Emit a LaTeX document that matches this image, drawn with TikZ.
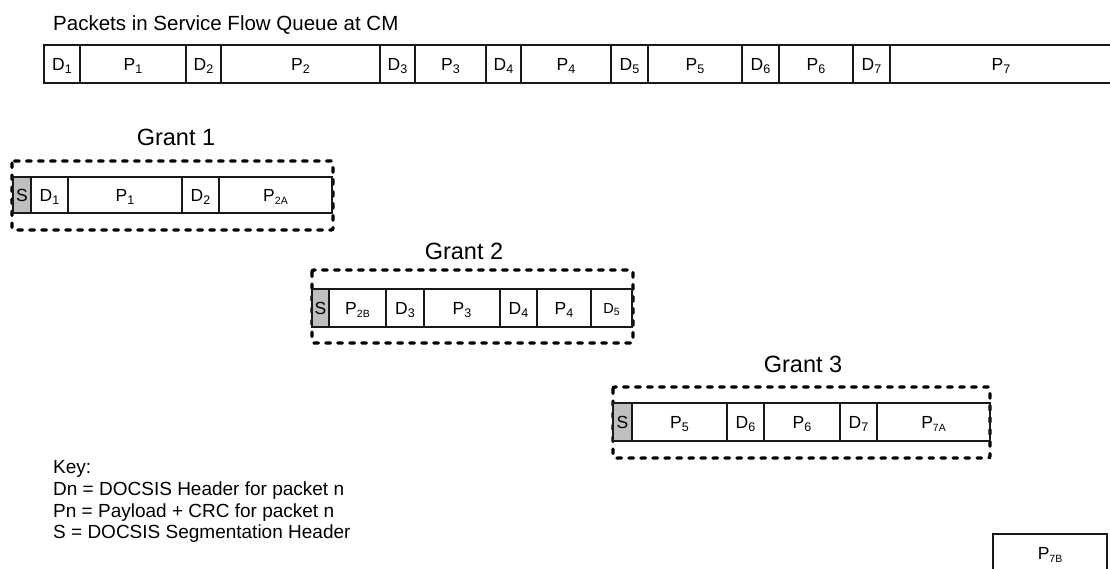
\documentclass[tikz,border=0pt]{standalone}
\usepackage{fontspec}
\setmainfont{Liberation Sans}
\newcommand\lbl[2]{#1\raisebox{-3.2pt}{\fontsize{12.5}{13}\selectfont #2}}
\newcommand\lbs[2]{#1\raisebox{-3.2pt}{\fontsize{10.5}{11}\selectfont #2}}
\begin{document}
\begin{tikzpicture}[x=1pt,y=-1pt,
  cell/.style={draw=black!90, line width=1.4pt, inner sep=0pt, outer sep=0pt, anchor=west,
    font=\fontsize{17.5}{17.5}\selectfont, text height=12.5pt, text depth=0pt},
  shdr/.style={cell, fill=black!25},
  grantbox/.style={draw=black, line width=3.4pt, dash pattern=on 4.5pt off 7.5pt, line cap=round, rounded corners=2pt},
  glabel/.style={anchor=base, font=\fontsize{23.5}{23.5}\selectfont, inner sep=0pt},
  keytext/.style={anchor=base west, font=\fontsize{19}{19}\selectfont, inner sep=0pt}]
\clip (0,0) rectangle (1110,569);
\fill[white] (0,0) rectangle (1110,569);

% title
\node[anchor=base west, font=\fontsize{20.5}{20.5}\selectfont, inner sep=0pt] (title) at (53,31) {Packets in Service Flow Queue at CM};

% queue
\node[cell, minimum width=36pt, minimum height=38pt] (qD1) at (44,64) {\lbl{D}{1}};
\node[cell, minimum width=106pt, minimum height=38pt] (qP1) at (80,64) {\lbl{P}{1}};
\node[cell, minimum width=35pt, minimum height=38pt] (qD2) at (186,64) {\lbl{D}{2}};
\node[cell, minimum width=159pt, minimum height=38pt] (qP2) at (221,64) {\lbl{P}{2}};
\node[cell, minimum width=35pt, minimum height=38pt] (qD3) at (380,64) {\lbl{D}{3}};
\node[cell, minimum width=71pt, minimum height=38pt] (qP3) at (415,64) {\lbl{P}{3}};
\node[cell, minimum width=35pt, minimum height=38pt] (qD4) at (486,64) {\lbl{D}{4}};
\node[cell, minimum width=90pt, minimum height=38pt] (qP4) at (521,64) {\lbl{P}{4}};
\node[cell, minimum width=37pt, minimum height=38pt] (qD5) at (611,64) {\lbl{D}{5}};
\node[cell, minimum width=94pt, minimum height=38pt] (qP5) at (648,64) {\lbl{P}{5}};
\node[cell, minimum width=37pt, minimum height=38pt] (qD6) at (742,64) {\lbl{D}{6}};
\node[cell, minimum width=74pt, minimum height=38pt] (qP6) at (779,64) {\lbl{P}{6}};
\node[cell, minimum width=37pt, minimum height=38pt] (qD7) at (853,64) {\lbl{D}{7}};
\node[cell, minimum width=222pt, minimum height=38pt] (qP7) at (890,64) {\lbl{P}{7}};

% grant 1
\node[glabel] (g1lbl) at (176,146) {Grant 1};
\draw[grantbox] (12,161) rectangle (333,230);
\node[shdr, minimum width=18pt, minimum height=36pt] (g1S) at (13,195) {S};
\node[cell, minimum width=37pt, minimum height=36pt] (g1D1) at (31,195) {\lbl{D}{1}};
\node[cell, minimum width=114pt, minimum height=36pt] (g1P1) at (68,195) {\lbl{P}{1}};
\node[cell, minimum width=37pt, minimum height=36pt] (g1D2) at (182,195) {\lbl{D}{2}};
\node[cell, minimum width=113pt, minimum height=36pt] (g1P2A) at (219,195) {\lbs{P}{2A}};

% grant 2
\node[glabel] (g2lbl) at (464,259) {Grant 2};
\draw[grantbox] (312,270) rectangle (633,343);
\node[shdr, minimum width=17pt, minimum height=38pt] (g2S) at (312,308) {S};
\node[cell, minimum width=57pt, minimum height=38pt] (g2P2B) at (329,308) {\lbs{P}{2B}};
\node[cell, minimum width=38pt, minimum height=38pt] (g2D3) at (386,308) {\lbl{D}{3}};
\node[cell, minimum width=76pt, minimum height=38pt] (g2P3) at (424,308) {\lbl{P}{3}};
\node[cell, minimum width=37pt, minimum height=38pt] (g2D4) at (500,308) {\lbl{D}{4}};
\node[cell, minimum width=54pt, minimum height=38pt] (g2P4) at (537,308) {\lbl{P}{4}};
\node[cell, minimum width=41pt, minimum height=38pt, font=\fontsize{14.5}{14.5}\selectfont, text height=10.5pt] (g2D5) at (591,308) {D\raisebox{-2.5pt}{\fontsize{10.5}{11}\selectfont 5}};

% grant 3
\node[glabel] (g3lbl) at (803,372) {Grant 3};
\draw[grantbox] (613,387) rectangle (990,458);
\node[shdr, minimum width=19pt, minimum height=38pt] (g3S) at (613,422) {S};
\node[cell, minimum width=95pt, minimum height=38pt] (g3P5) at (632,422) {\lbl{P}{5}};
\node[cell, minimum width=37pt, minimum height=38pt] (g3D6) at (727,422) {\lbl{D}{6}};
\node[cell, minimum width=76pt, minimum height=38pt] (g3P6) at (764,422) {\lbl{P}{6}};
\node[cell, minimum width=37pt, minimum height=38pt] (g3D7) at (840,422) {\lbl{D}{7}};
\node[cell, minimum width=113pt, minimum height=38pt] (g3P7A) at (877,422) {\lbs{P}{7A}};

% key
\node[keytext] (k0) at (53,473) {Key:};
\node[keytext] (k1) at (53,495) {Dn = DOCSIS Header for packet n};
\node[keytext] (k2) at (53,517) {Pn = Payload + CRC for packet n};
\node[keytext] (k3) at (53,538) {S = DOCSIS Segmentation Header};

% leftover
\node[cell, minimum width=114pt, minimum height=38pt] (p7b) at (993,553) {\lbs{P}{7B}};
\end{tikzpicture}
\end{document}
